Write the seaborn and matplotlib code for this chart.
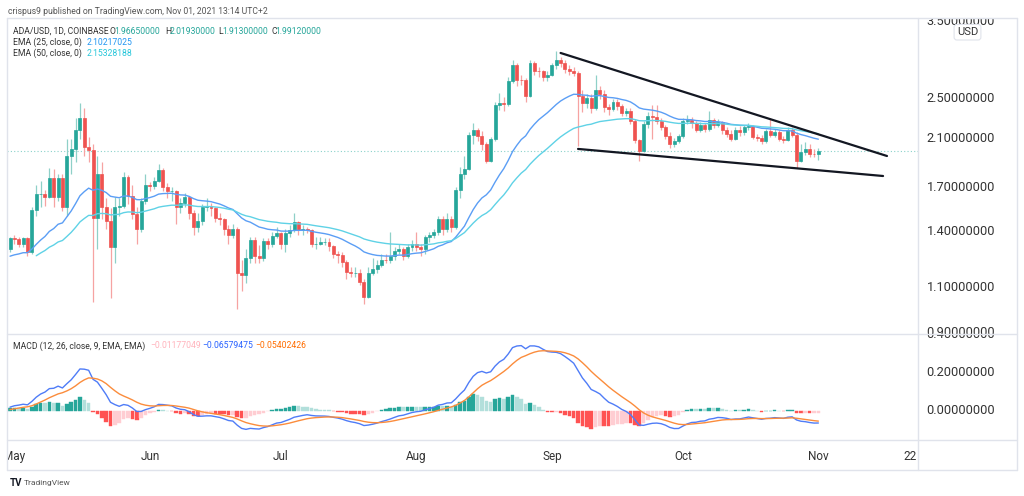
import numpy as np
import pandas as pd
import matplotlib
matplotlib.use("Agg")
import matplotlib.pyplot as plt
import matplotlib.transforms as mtrans
from matplotlib.lines import Line2D
import seaborn as sns

# ADA/USD daily candles, 30 Apr 2021 .. 1 Nov 2021
first_open = 1.30
close = [1.36, 1.355, 1.33, 1.36, 1.28, 1.54, 1.65, 1.65, 1.63, 1.77,
         1.63, 1.77, 1.56, 1.95, 2.01, 2.18, 2.30, 2.03, 2.00, 1.49,
         1.80, 1.56, 1.47, 1.31, 1.56, 1.57, 1.78, 1.64, 1.51, 1.42,
         1.60, 1.72, 1.71, 1.75, 1.83, 1.70, 1.67, 1.67, 1.56, 1.59,
         1.63, 1.52, 1.43, 1.47, 1.56, 1.57, 1.55, 1.49, 1.48, 1.42,
         1.38, 1.42, 1.17, 1.16, 1.25, 1.35, 1.26, 1.25, 1.345, 1.326,
         1.375, 1.39, 1.33, 1.395, 1.41, 1.46, 1.41, 1.415, 1.41, 1.326,
         1.33, 1.34, 1.34, 1.315, 1.27, 1.265, 1.225, 1.175, 1.17, 1.17,
         1.125, 1.055, 1.17, 1.19, 1.21, 1.24, 1.235, 1.26, 1.29, 1.30,
         1.26, 1.31, 1.33, 1.31, 1.30, 1.37, 1.38, 1.40, 1.48, 1.42,
         1.48, 1.43, 1.68, 1.80, 1.84, 2.14, 2.18, 2.13, 2.05, 1.91,
         2.10, 2.44, 2.46, 2.45, 2.70, 2.90, 2.72, 2.71, 2.53, 2.93,
         2.83, 2.82, 2.75, 2.78, 2.90, 2.96, 2.93, 2.85, 2.83, 2.80,
         2.53, 2.46, 2.51, 2.40, 2.60, 2.56, 2.41, 2.39, 2.47, 2.42,
         2.35, 2.37, 2.27, 2.09, 1.99, 2.24, 2.32, 2.31, 2.27, 2.21,
         2.13, 2.05, 2.08, 2.13, 2.27, 2.28, 2.25, 2.185, 2.23, 2.19,
         2.28, 2.23, 2.26, 2.185, 2.15, 2.10, 2.185, 2.16, 2.21, 2.22,
         2.12, 2.11, 2.08, 2.17, 2.14, 2.16, 2.10, 2.09, 2.18, 2.14,
         1.91, 1.98, 2.01, 1.97, 1.9665, 1.9912]
high = [1.37, 1.38, 1.37, 1.37, 1.37, 1.56, 1.72, 1.75, 1.68, 1.85,
        1.84, 1.80, 1.80, 2.10, 2.10, 2.30, 2.46, 2.40, 2.12, 2.05,
        1.95, 1.90, 1.62, 1.55, 1.63, 1.62, 1.82, 1.79, 1.72, 1.56,
        1.62, 1.80, 1.74, 1.78, 1.88, 1.85, 1.73, 1.70, 1.68, 1.62,
        1.66, 1.64, 1.54, 1.52, 1.58, 1.62, 1.59, 1.56, 1.52, 1.49,
        1.44, 1.45, 1.43, 1.24, 1.30, 1.37, 1.37, 1.32, 1.36, 1.36,
        1.40, 1.43, 1.40, 1.42, 1.44, 1.52, 1.47, 1.44, 1.43, 1.42,
        1.37, 1.37, 1.36, 1.36, 1.32, 1.29, 1.28, 1.24, 1.20, 1.20,
        1.19, 1.14, 1.20, 1.25, 1.24, 1.27, 1.27, 1.40, 1.31, 1.33,
        1.31, 1.33, 1.35, 1.40, 1.33, 1.38, 1.40, 1.42, 1.50, 1.50,
        1.52, 1.50, 1.70, 1.86, 1.95, 2.16, 2.25, 2.20, 2.17, 2.07,
        2.12, 2.47, 2.57, 2.52, 2.75, 2.97, 2.92, 2.78, 2.74, 2.96,
        2.95, 2.88, 2.84, 2.82, 2.92, 3.08, 3.00, 2.96, 2.90, 2.88,
        2.82, 2.60, 2.56, 2.55, 2.78, 2.64, 2.60, 2.45, 2.50, 2.50,
        2.45, 2.40, 2.40, 2.29, 2.10, 2.27, 2.36, 2.44, 2.44, 2.30,
        2.23, 2.16, 2.11, 2.15, 2.30, 2.33, 2.31, 2.27, 2.26, 2.25,
        2.37, 2.30, 2.29, 2.27, 2.21, 2.18, 2.21, 2.22, 2.23, 2.25,
        2.23, 2.15, 2.14, 2.19, 2.30, 2.19, 2.18, 2.13, 2.21, 2.21,
        2.16, 2.05, 2.07, 2.05, 2.01, 2.0193]
low = [1.28, 1.33, 1.31, 1.31, 1.26, 1.27, 1.50, 1.56, 1.57, 1.62,
       1.56, 1.60, 1.53, 1.50, 1.80, 1.90, 2.10, 1.95, 1.90, 1.03,
       1.30, 1.48, 1.42, 1.05, 1.22, 1.50, 1.55, 1.58, 1.48, 1.33,
       1.40, 1.58, 1.67, 1.69, 1.74, 1.67, 1.62, 1.60, 1.45, 1.52,
       1.56, 1.48, 1.38, 1.40, 1.44, 1.53, 1.50, 1.46, 1.44, 1.38,
       1.33, 1.36, 1.00, 1.08, 1.12, 1.22, 1.22, 1.22, 1.23, 1.30,
       1.31, 1.36, 1.30, 1.28, 1.37, 1.40, 1.38, 1.38, 1.39, 1.31,
       1.30, 1.32, 1.32, 1.29, 1.25, 1.22, 1.20, 1.14, 1.15, 1.15,
       1.11, 1.02, 1.05, 1.16, 1.17, 1.20, 1.22, 1.22, 1.24, 1.27,
       1.24, 1.25, 1.29, 1.29, 1.26, 1.27, 1.34, 1.36, 1.38, 1.38,
       1.40, 1.40, 1.42, 1.62, 1.76, 1.83, 2.05, 2.08, 2.00, 1.89,
       1.90, 2.08, 2.38, 2.37, 2.42, 2.68, 2.65, 2.66, 2.47, 2.52,
       2.78, 2.75, 2.70, 2.70, 2.76, 2.85, 2.88, 2.80, 2.78, 2.76,
       2.04, 2.36, 2.40, 2.35, 2.38, 2.50, 2.36, 2.33, 2.37, 2.38,
       2.32, 2.32, 2.24, 2.06, 1.91, 1.98, 2.20, 2.10, 2.24, 2.18,
       2.10, 2.02, 2.03, 2.06, 2.11, 2.24, 2.20, 2.16, 2.16, 2.16,
       2.17, 2.20, 2.21, 2.15, 2.12, 2.08, 2.09, 2.13, 2.14, 2.18,
       2.10, 2.08, 2.05, 2.06, 2.12, 2.12, 2.08, 2.06, 2.08, 2.12,
       1.85, 1.90, 1.96, 1.94, 1.94, 1.913]

# indicator state just before the first visible bar
ema25_seed = 1.25
ema50_seed, ema50_start = 1.245, 6
ema12_seed, ema26_seed, signal_seed = 1.225, 1.215, 0.004

# values printed in the chart legends
legend_ohlc = [("O", 1.9665), ("H", 2.0193), ("L", 1.913), ("C", 1.9912)]
legend_ema = [2.10217025, 2.15328188]
legend_macd = [-0.01177049, -0.06579475, -0.05402426]

month_pos = [1, 32, 62, 93, 124, 154, 185, 206]
month_lab = ["May", "Jun", "Jul", "Aug", "Sep", "Oct", "Nov", "22"]
price_ticks = [3.5, 2.5, 2.1, 1.7, 1.4, 1.1, 0.9]
macd_ticks = [0.4, 0.2, 0.0]

# hand-drawn wedge lines (bar index, price)
upper_x, upper_y = [126, 200.7], [3.056, 1.949]
lower_x, lower_y = [130, 199.8], [2.01, 1.786]

UP, DOWN = "#26a69a", "#ef5350"
EMA25_C, EMA50_C = "#5b9ef5", "#5fd2e6"
MACD_C, SIG_C = "#4f7cf7", "#fb8c3c"
FRAME = "#e0e3eb"
TXT = "#333333"


def ema(values, span, seed):
    s = pd.Series([seed] + list(values))
    return s.ewm(span=span, adjust=False).mean().values[1:]


def fmt(v):
    return f"\u2212{abs(v):.8f}" if v < 0 else f"{v:.8f}"


sns.set_theme(style="white")
plt.rcParams["font.family"] = ["Roboto", "DejaVu Sans"]

close = np.array(close)
high = np.array(high)
low = np.array(low)
idx = np.arange(len(close))
opn = np.r_[first_open, close[:-1]]

ema25 = ema(close, 25, ema25_seed)
ema50 = ema(close[ema50_start:], 50, ema50_seed)
macd = ema(close, 12, ema12_seed) - ema(close, 26, ema26_seed)
signal = ema(macd, 9, signal_seed)
hist = macd - signal
prev = np.r_[hist[0], hist[:-1]]
hist_col = np.where(hist >= 0,
                    np.where(hist >= prev, "#26a69a", "#b2dfdb"),
                    np.where(hist <= prev, "#ff5252", "#ffcdd2"))

W, H = 1024, 496
fig = plt.figure(figsize=(W / 100, H / 100), dpi=100)


def box(x0, y0, x1, y1):
    return [x0 / W, 1 - y1 / H, (x1 - x0) / W, (y1 - y0) / H]


ax = fig.add_axes(box(7, 18, 918, 334))
ax.set_yscale("log")
axm = fig.add_axes(box(7, 334, 918, 440), sharex=ax)
pax = fig.add_axes(box(918, 18, 1017, 334), sharey=ax)
pmx = fig.add_axes(box(918, 334, 1017, 440), sharey=axm)
tax = fig.add_axes(box(7, 440, 918, 470), sharex=ax)

# candles
up = close >= opn
body_c = np.where(up, UP, DOWN)
wick_c = np.where(up, "#8fd0c8", "#f6a3a2")
ax.vlines(idx, low, high, colors=wick_c, lw=0.9, zorder=2)
lo = np.minimum(opn, close)
hi = np.maximum(opn, close)
ax.bar(idx, hi - lo, bottom=lo, width=0.68, color=body_c,
       edgecolor=body_c, linewidth=0.5, zorder=3)

sns.lineplot(x=idx, y=ema25, ax=ax, color=EMA25_C, lw=1, sort=False,
             estimator=None, zorder=4)
sns.lineplot(x=idx[ema50_start:], y=ema50, ax=ax, color=EMA50_C, lw=1,
             sort=False, estimator=None, zorder=4)
ax.axhline(close[-1], color="#6cc7bd", lw=0.8, ls=(0, (1, 2)), alpha=0.8,
           zorder=1)
ax.plot(upper_x, upper_y, color="#131722", lw=1.6, zorder=5,
        solid_capstyle="round")
ax.plot(lower_x, lower_y, color="#131722", lw=1.6, zorder=5,
        solid_capstyle="round")

ax.set_xlim(-0.69, 207.8)
ax.set_ylim(0.896, 3.56)

# MACD panel
axm.bar(idx, hist, width=0.82, color=hist_col, edgecolor=hist_col,
        linewidth=0.3, zorder=2)
sns.lineplot(x=idx, y=macd, ax=axm, color=MACD_C, lw=1, sort=False,
             estimator=None, zorder=3)
sns.lineplot(x=idx, y=signal, ax=axm, color=SIG_C, lw=1, sort=False,
             estimator=None, zorder=3)
axm.set_ylim(-0.153, 0.405)

for a in (ax, axm, pax, pmx, tax):
    a.set_axis_off()

# price scale labels (clipped to their panes like the original)
for a, ticks in ((pax, price_ticks), (pmx, macd_ticks)):
    tr = mtrans.blended_transform_factory(a.transAxes, a.transData)
    for v in ticks:
        a.text(0.088, v, f"{v:.8f}", transform=tr, ha="left", va="center",
               fontsize=9.2, color=TXT, clip_on=True)
pax.text(0.5, 0.955, "USD", transform=pax.transAxes, ha="center",
         va="center", fontsize=8, color=TXT,
         bbox=dict(boxstyle="round,pad=0.25", fc="white", ec=FRAME, lw=0.8))

# time scale labels
ttr = mtrans.blended_transform_factory(tax.transData, tax.transAxes)
for p, lab in zip(month_pos, month_lab):
    tax.text(p, 0.45, lab, transform=ttr, ha="center", va="center",
             fontsize=8.5, color=TXT, clip_on=True)

# frame
for y in (18, 334, 440, 470):
    fig.add_artist(Line2D([7 / W, 1017 / W], [1 - y / H] * 2, color=FRAME,
                          lw=1, transform=fig.transFigure))
for x in (7, 918, 1017):
    fig.add_artist(Line2D([x / W] * 2, [1 - 18 / H, 1 - 470 / H], color=FRAME,
                          lw=1, transform=fig.transFigure))

# header and legends
fig.text(8 / W, 1 - 11 / H,
         "crispus9 published on TradingView.com, Nov 01, 2021 13:14 UTC+2",
         fontsize=6.2, color="#555555", va="center")


def seg(x, y, s, c):
    fig.text(x / W, 1 - y / H, s, fontsize=6.2, color=c, va="center")


seg(12.7, 31.5, "ADA/USD, 1D, COINBASE", TXT)
for xl, (lab, val) in zip((110, 165, 218.3, 271), legend_ohlc):
    seg(xl, 31.5, lab, TXT)
    seg(xl + 4.3, 31.5, f"{val:.8f}", UP)
seg(12.7, 42.7, "EMA (25, close, 0)", TXT)
seg(86.7, 42.7, fmt(legend_ema[0]), "#2196f3")
seg(12.7, 53.5, "EMA (50, close, 0)", TXT)
seg(86.7, 53.5, fmt(legend_ema[1]), "#26c6da")
seg(12.7, 346, "MACD (12, 26, close, 9, EMA, EMA)", TXT)
for xv, v, c in zip((150, 202.7, 255), legend_macd,
                    ("#ffb3bc", "#2962ff", "#ff6d00")):
    seg(xv, 346, fmt(v), c)

fig.text(10 / W, 1 - 483 / H, "TV", fontsize=7, fontweight="bold",
         color="#131722", va="center")
fig.text(24 / W, 1 - 483 / H, "TradingView", fontsize=6, color="#555555",
         va="center")

fig.savefig("out.png", dpi=100, facecolor="white")
